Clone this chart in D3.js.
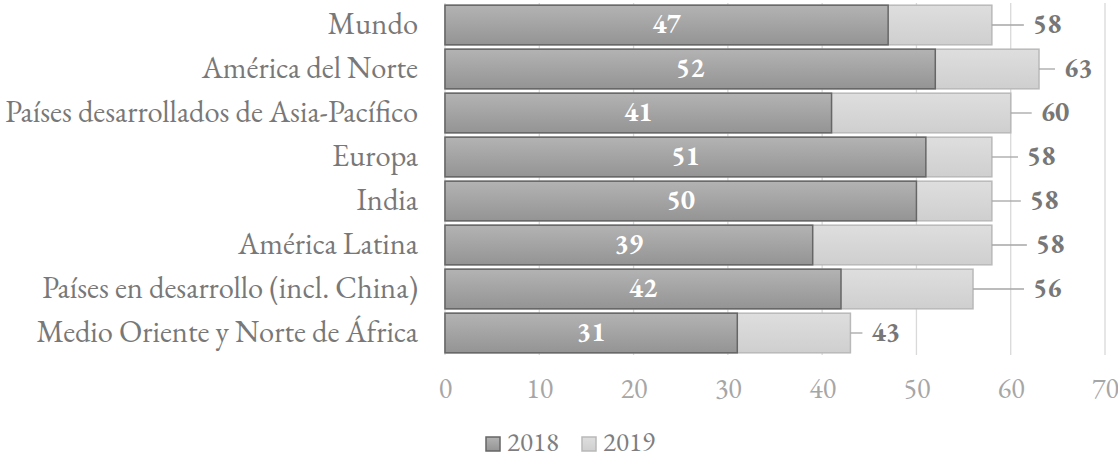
<!DOCTYPE html>
<html>
<head>
<meta charset="utf-8">
<script src="https://cdn.jsdelivr.net/npm/d3@7"></script>
<style>
  html, body { margin: 0; padding: 0; background: #fff; }
  svg { display: block; }
</style>
</head>
<body>
<svg id="chart" width="1118" height="459"></svg>
<script>
// Regions, top to bottom
const categories = [
  "Mundo",
  "América del Norte",
  "Países desarrollados de Asia-Pacífico",
  "Europa",
  "India",
  "América Latina",
  "Países en desarrollo (incl. China)",
  "Medio Oriente y Norte de África"
];
const values2018 = [47, 52, 41, 51, 50, 39, 42, 31];
const values2019 = [58, 63, 60, 58, 58, 58, 56, 43];
const seriesNames = ["2018", "2019"];
const xTicks = [0, 10, 20, 30, 40, 50, 60, 70];

// Length of each leader line (px) between the 2019 bar end and its label
const leaderLen = [32, 16, 21, 26, 29, 35, 51, 12];

const FONT = "'EB Garamond', 'Liberation Serif', serif";

const svg = d3.select("#chart").attr("font-family", FONT);
const margin = { left: 445, right: 13, top: 3, bottom: 104 };
const W = 1118, H = 459;

const x = d3.scaleLinear().domain([0, 70]).range([margin.left, W - margin.right]);
const y = d3.scaleBand().domain(categories).range([margin.top, H - margin.bottom]).paddingInner(0.1).paddingOuter(0.05);

const defs = svg.append("defs");
const g1 = defs.append("linearGradient").attr("id", "grad2018").attr("x1", 0).attr("y1", 0).attr("x2", 0).attr("y2", 1);
g1.append("stop").attr("offset", "0%").attr("stop-color", "#b3b3b3");
g1.append("stop").attr("offset", "100%").attr("stop-color", "#949494");
const g2 = defs.append("linearGradient").attr("id", "grad2019").attr("x1", 0).attr("y1", 0).attr("x2", 0).attr("y2", 1);
g2.append("stop").attr("offset", "0%").attr("stop-color", "#dedede");
g2.append("stop").attr("offset", "100%").attr("stop-color", "#cfcfcf");

// Vertical gridlines
svg.append("g")
  .selectAll("line")
  .data(xTicks)
  .join("line")
  .attr("x1", d => x(d)).attr("x2", d => x(d))
  .attr("y1", margin.top).attr("y2", H - margin.bottom)
  .attr("stroke", "#d9d9d9").attr("stroke-width", 1.3);

// 2019 bars (behind)
svg.append("g")
  .selectAll("rect")
  .data(categories)
  .join("rect")
  .attr("x", x(0))
  .attr("y", d => y(d))
  .attr("width", (d, i) => x(values2019[i]) - x(0))
  .attr("height", y.bandwidth())
  .attr("fill", "url(#grad2019)")
  .attr("stroke", "#b9b9b9").attr("stroke-width", 1.5);

// 2018 bars (front)
svg.append("g")
  .selectAll("rect")
  .data(categories)
  .join("rect")
  .attr("x", x(0))
  .attr("y", d => y(d))
  .attr("width", (d, i) => x(values2018[i]) - x(0))
  .attr("height", y.bandwidth())
  .attr("fill", "url(#grad2018)")
  .attr("stroke", "#666").attr("stroke-width", 1.5);

// 2018 labels inside bars
svg.append("g")
  .selectAll("text")
  .data(categories)
  .join("text")
  .attr("x", (d, i) => (x(0) + x(values2018[i])) / 2)
  .attr("y", d => y(d) + y.bandwidth() / 2)
  .attr("dy", "0.3em")
  .attr("text-anchor", "middle")
  .attr("fill", "#fff")
  .attr("font-weight", "bold")
  .attr("font-size", 27)
  .text((d, i) => values2018[i]);

// 2019 leader lines and labels
const lbl = svg.append("g");
categories.forEach((c, i) => {
  const xe = x(values2019[i]);
  const cy = y(c) + y.bandwidth() / 2;
  lbl.append("line")
    .attr("x1", xe).attr("x2", xe + leaderLen[i])
    .attr("y1", cy).attr("y2", cy)
    .attr("stroke", "#a6a6a6").attr("stroke-width", 1.3);
  lbl.append("text")
    .attr("x", xe + leaderLen[i] + 9)
    .attr("y", cy)
    .attr("dy", "0.3em")
    .attr("fill", "#777")
    .attr("font-weight", "bold")
    .attr("font-size", 27)
    .text(values2019[i]);
});

// Category labels, sized so the longest one spans the left margin
const catG = svg.append("g");
const cats = catG.selectAll("text")
  .data(categories)
  .join("text")
  .attr("x", 418)
  .attr("y", d => y(d) + y.bandwidth() / 2)
  .attr("dy", "0.28em")
  .attr("text-anchor", "end")
  .attr("fill", "#787878")
  .attr("font-size", 30)
  .text(d => d);
const longest = d3.max(cats.nodes(), n => n.getComputedTextLength());
if (longest > 0) cats.attr("font-size", 30 * 413 / longest);

// X axis tick labels
const xAxis = d3.axisBottom(x).tickValues(xTicks).tickSize(0).tickPadding(0);
const ax = svg.append("g").attr("transform", `translate(0,${H - margin.bottom})`).call(xAxis);
ax.attr("font-family", FONT).attr("font-size", 28);
ax.select(".domain").remove();
ax.selectAll("text")
  .attr("y", 43)
  .attr("dy", 0)
  .attr("fill", "#a6a6a6");

// Legend
const legend = svg.append("g");
const legendItems = [
  { name: seriesNames[0], x: 486, fill: "url(#grad2018)", stroke: "#666" },
  { name: seriesNames[1], x: 582, fill: "url(#grad2019)", stroke: "#b9b9b9" }
];
legendItems.forEach(it => {
  legend.append("rect")
    .attr("x", it.x).attr("y", 437).attr("width", 14).attr("height", 14)
    .attr("fill", it.fill).attr("stroke", it.stroke).attr("stroke-width", 1.5);
  legend.append("text")
    .attr("x", it.x + 21).attr("y", 451)
    .attr("fill", "#7e7e7e")
    .attr("font-size", 27)
    .text(it.name);
});
</script>
</body>
</html>
